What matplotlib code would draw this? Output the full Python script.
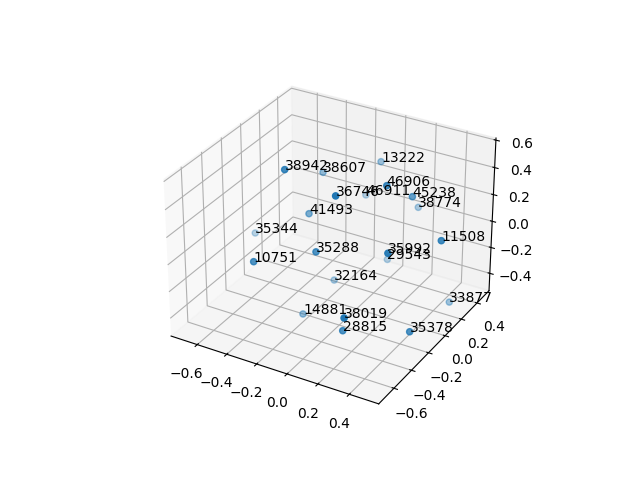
import matplotlib
matplotlib.use('Agg')
import matplotlib.pyplot as plt

names = ['38942','38607','13222','46906','46911','45238','38774','36746','41493','35344','35288','35992','29543','11508','10751','32164','33877','14881','38019','28815','35378']
xs = [-0.270,-0.343,-0.102,0.244,-0.207,0.284,0.120,0.114,-0.276,-0.724,-0.040,0.407,0.001,0.583,-0.329,-0.205,0.454,-0.237,0.320,0.200,0.526]
ys = [-0.338,0.193,0.451,-0.100,0.460,0.128,0.512,-0.434,-0.075,0.043,-0.388,-0.370,0.360,-0.081,-0.580,0.088,0.298,-0.213,-0.691,-0.501,-0.321]
zs = [0.607,0.281,0.295,0.520,0.006,0.328,-0.016,0.591,0.141,-0.216,0.116,0.243,-0.370,0.222,0.062,-0.437,-0.511,-0.526,-0.056,-0.314,-0.320]

fig = plt.figure(figsize=(6.4, 4.8), dpi=100)
ax = fig.add_subplot(projection='3d')
ax.scatter(xs, ys, zs)
for n, x, y, z in zip(names, xs, ys, zs):
    ax.text(x, y, z, n)
ax.set_xlim(-0.78, 0.585)
ax.set_ylim(-0.769, 0.556)
ax.set_zlim(-0.536, 0.615)
plt.savefig('out.png')
